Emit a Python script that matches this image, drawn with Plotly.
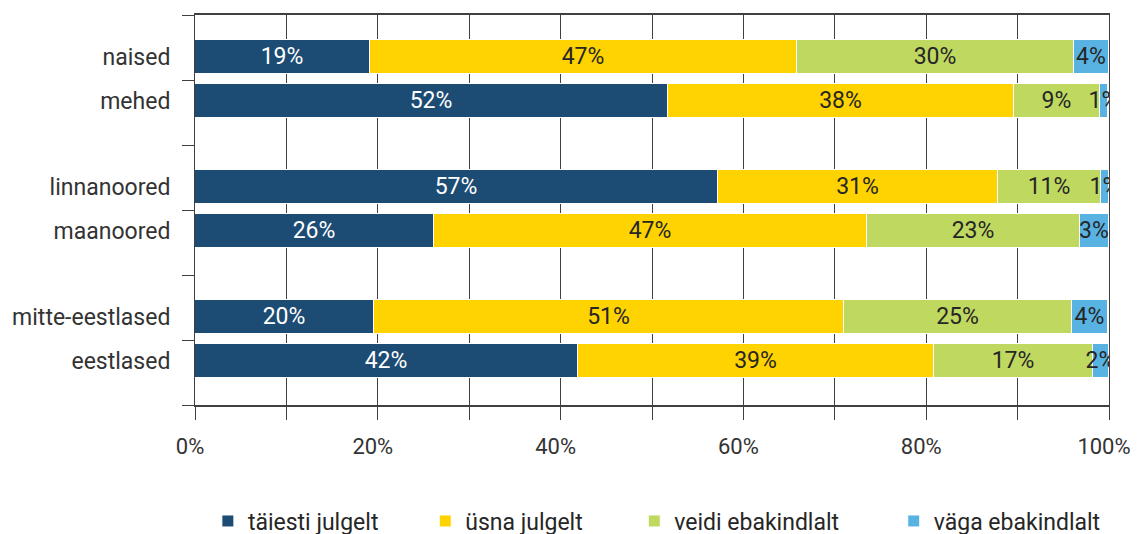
import plotly.graph_objects as go

# rows, top to bottom
groups = ['naised', 'mehed', 'linnanoored', 'maanoored', 'mitte-eestlased', 'eestlased']

series = ['täiesti julgelt', 'üsna julgelt', 'veidi ebakindlalt', 'väga ebakindlalt']

# shares in %
taiesti = [19.1, 51.8, 57.2, 26.1, 19.6, 41.9]
usna = [46.8, 37.8, 30.7, 47.4, 51.4, 39.0]
veidi = [30.3, 9.4, 11.2, 23.3, 25.0, 17.3]
vaga = [3.8, 0.9, 0.9, 3.2, 3.9, 1.8]

colors = ['#1C4B73', '#FFD300', '#BFD860', '#58B2E2']
text_colors = ['white', '#262626', '#262626', '#262626']

# two rows per group, one empty slot between groups
row_pos = [2 * (i // 2) + (0.65 if i % 2 == 0 else 1.32) for i in range(len(groups))]

FONT = 'Roboto, sans-serif'

fig = go.Figure()
values = [taiesti, usna, veidi, vaga]
legend_x = [0.0141, 0.2519, 0.4806, 0.7645]
for k, name in enumerate(series):
    fig.add_trace(go.Bar(
        y=row_pos, x=values[k], orientation='h', name=name,
        marker=dict(color=colors[k], line=dict(color='white', width=1)),
        width=0.52,
        texttemplate='%{x:.0f}%', textposition='inside', insidetextanchor='middle',
        constraintext='none', textangle=0,
        textfont=dict(family=FONT, size=23, color=text_colors[k]),
        legend='legend' if k == 0 else 'legend%d' % (k + 1),
        hoverinfo='skip',
    ))

# page body adds 8px offset around the figure
fig.update_layout(
    barmode='stack',
    width=1140, height=534,
    margin=dict(l=187, r=39, t=7, b=137),
    plot_bgcolor='white', paper_bgcolor='white',
    font=dict(family=FONT, size=23, color='#333333'),
    bargap=0,
    showlegend=True,
)

for k in range(4):
    key = 'legend' if k == 0 else 'legend%d' % (k + 1)
    fig.layout[key] = dict(
        x=legend_x[k], xanchor='left', y=0.0393, yanchor='middle', yref='container',
        orientation='h', font=dict(family=FONT, size=23, color='#262626'),
        bgcolor='rgba(0,0,0,0)', borderwidth=0, visible=True,
    )

fig.update_xaxes(
    range=[0, 100], tickmode='array', tickvals=[0, 20, 40, 60, 80, 100],
    ticktext=['0%', '20%', '40%', '60%', '80%', '100%'],
    ticks='outside', ticklen=13, tickcolor='#404040', tickwidth=1,
    ticklabelstandoff=8, ticklabelshift=-5, ticklabeloverflow='allow',
    showgrid=True, gridcolor='#404040', gridwidth=1,
    minor=dict(dtick=10, tick0=0, ticks='outside', ticklen=13, tickcolor='#404040',
               showgrid=True, gridcolor='#404040', gridwidth=1),
    showline=True, linecolor='#404040', linewidth=1.5, mirror=True,
    zeroline=False, tickfont=dict(size=22), fixedrange=True, automargin=False,
)

fig.update_yaxes(
    range=[6, 0], tickmode='array', tickvals=row_pos, ticktext=groups,
    ticks='', ticklabelstandoff=19, tickfont=dict(size=23, color='#333333'),
    showgrid=False, zeroline=False,
    minor=dict(tickmode='linear', tick0=0, dtick=1, ticks='outside', ticklen=12,
               tickcolor='#404040', showgrid=False),
    showline=True, linecolor='#404040', linewidth=1, mirror=True, fixedrange=True,
    automargin=False,
)

fig.write_html('out.html')
